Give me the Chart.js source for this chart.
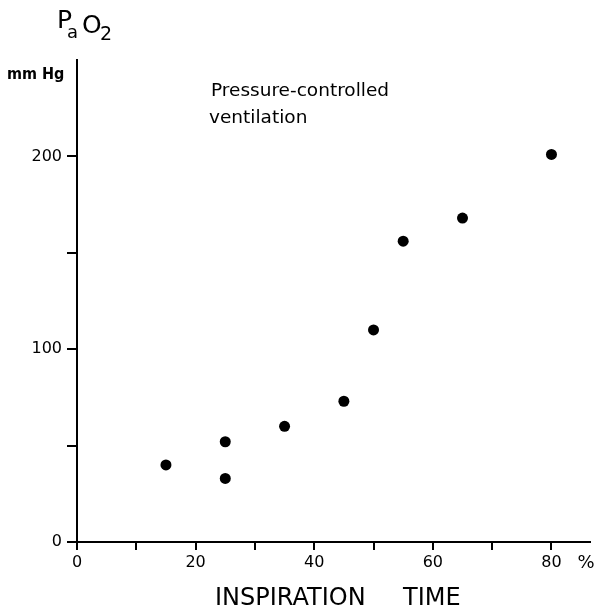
<!DOCTYPE html>
<html>
<head>
<meta charset="utf-8">
<script src="https://cdn.jsdelivr.net/npm/chart.js@4/dist/chart.umd.min.js"></script>
<style>
    html, body { margin: 0; padding: 0; background: #fff; }
    #wrap { width: 597px; height: 608px; }
</style>
</head>
<body>
<div id="wrap"><canvas id="paO2Chart" width="597" height="608"></canvas></div>
<script>
// inspiration time (% of cycle) vs arterial PO2 (mmHg)
const inspirationTime = [15, 25, 25, 35, 45, 50, 55, 65, 80];
const paO2 = [40, 52, 33, 60, 73, 110, 156, 168, 201];

const xTickValues = [0, 10, 20, 30, 40, 50, 60, 70, 80];
const xTickLabels = ['0', '', '20', '', '40', '', '60', '', '80'];
const yTickValues = [0, 50, 100, 150, 200];
const yTickLabels = ['0', '', '100', '', '200'];

const FONT = '"DejaVu Sans", sans-serif';

// extra text: axis name with subscripts, unit, note, x title
const textPlugin = {
    id: 'extraText',
    afterDraw(chart) {
        const ctx = chart.ctx;
        const xs = chart.scales.x;
        ctx.save();
        ctx.fillStyle = '#000';
        ctx.textAlign = 'left';
        ctx.textBaseline = 'alphabetic';

        ctx.font = '25px ' + FONT;
        ctx.fillText('P', 57, 28);
        ctx.font = '18px ' + FONT;
        ctx.fillText('a', 67, 38);
        ctx.font = '25px ' + FONT;
        ctx.fillText('O', 82, 33);
        ctx.font = '19px ' + FONT;
        ctx.fillText('2', 100, 40);

        ctx.font = 'bold 16px "DejaVu Sans Condensed", "DejaVu Sans", sans-serif';
        ctx.fillText('mm Hg', 7, 79);

        ctx.font = '18.5px ' + FONT;
        ctx.fillText('Pressure-controlled', 211, 96);
        ctx.fillText('ventilation', 209, 123);

        ctx.font = '18px ' + FONT;
        ctx.fillText('%', xs.getPixelForValue(80) + 26, 568);

        ctx.font = '24px ' + FONT;
        ctx.fillText('INSPIRATION', 215, 605);
        ctx.fillText('TIME', 403, 605);
        ctx.restore();
    }
};

new Chart(document.getElementById('paO2Chart'), {
    type: 'scatter',
    data: {
        datasets: [{
            data: inspirationTime.map((t, i) => ({ x: t, y: paO2[i] })),
            pointRadius: 5.5,
            pointBackgroundColor: '#000',
            pointBorderColor: '#000',
            pointBorderWidth: 0,
            showLine: false
        }]
    },
    options: {
        responsive: false,
        devicePixelRatio: 1,
        animation: false,
        layout: { padding: { top: 60, right: 7, left: 0, bottom: 0 } },
        plugins: {
            legend: { display: false },
            tooltip: { enabled: false }
        },
        scales: {
            x: {
                type: 'linear',
                min: 0,
                max: 86.5,
                afterBuildTicks: s => { s.ticks = xTickValues.map(v => ({ value: v })); },
                afterFit: s => { s.height = 66; },
                ticks: {
                    color: '#000',
                    font: { family: FONT, size: 16 },
                    padding: 3,
                    maxRotation: 0,
                    autoSkip: false,
                    callback: (v, i) => xTickLabels[i]
                },
                grid: {
                    drawOnChartArea: false,
                    drawTicks: true,
                    tickLength: 8,
                    color: '#000',
                    lineWidth: 2
                },
                border: { display: true, color: '#000', width: 2 }
            },
            y: {
                type: 'linear',
                min: 0,
                max: 250,
                afterBuildTicks: s => { s.ticks = yTickValues.map(v => ({ value: v })); },
                afterFit: s => { s.width = 77; },
                ticks: {
                    color: '#000',
                    font: { family: FONT, size: 16 },
                    padding: 5,
                    autoSkip: false,
                    callback: (v, i) => yTickLabels[i]
                },
                grid: {
                    drawOnChartArea: false,
                    drawTicks: true,
                    tickLength: 10,
                    color: '#000',
                    lineWidth: 2
                },
                border: { display: true, color: '#000', width: 2 }
            }
        }
    },
    plugins: [textPlugin]
});
</script>
</body>
</html>
